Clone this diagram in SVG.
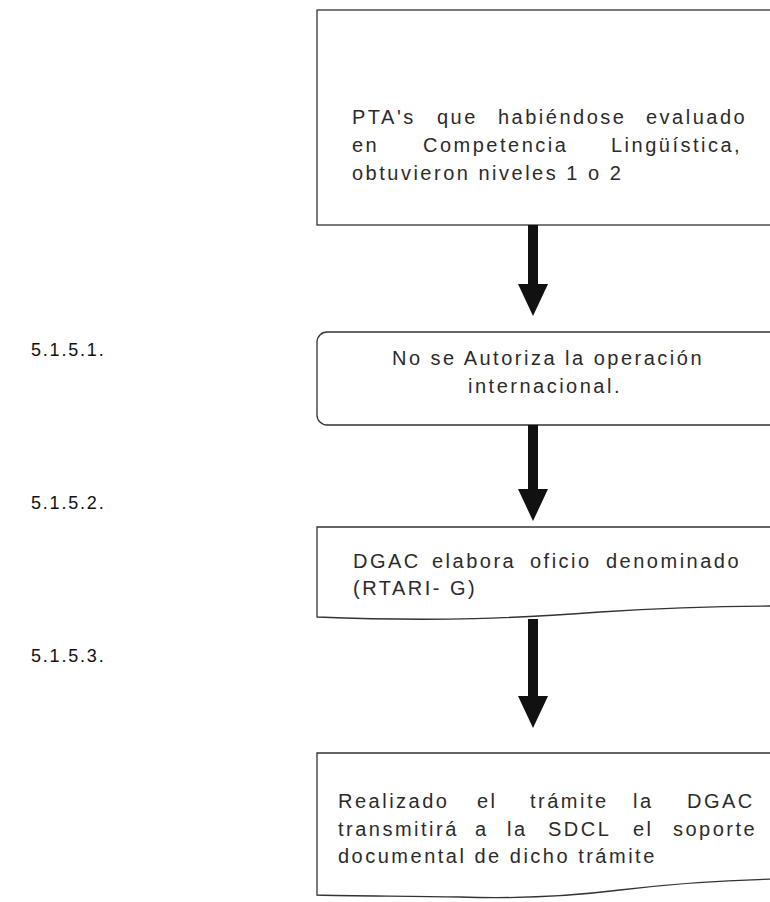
<svg xmlns="http://www.w3.org/2000/svg" width="770" height="902" viewBox="0 0 770 902">
<style>
.box{fill:#ffffff;stroke:#333333;stroke-width:1.3}
.t{font-family:"Liberation Sans",Arial,sans-serif;font-size:20px;letter-spacing:2.5px;fill:#2b2b2b}
.lbl{font-family:"Liberation Sans",Arial,sans-serif;font-size:18px;letter-spacing:1.8px;fill:#111111}
.shaft{stroke:#111111;stroke-width:10;fill:none}
</style>
<defs>
<marker id="head" markerUnits="userSpaceOnUse" viewBox="0 -15 32 30" refX="0" refY="0" markerWidth="32" markerHeight="30" orient="auto">
<path d="M0,-15 L32,0 L0,15 Z" fill="#111111"/>
</marker>
</defs>
<rect width="770" height="902" fill="#ffffff"/>
<g id="labels">
<text class="lbl" x="31" y="356">5.1.5.1.</text>
<text class="lbl" x="31" y="509">5.1.5.2.</text>
<text class="lbl" x="31" y="662">5.1.5.3.</text>
</g>
<g id="node1">
<rect class="box" x="317" y="10" width="470" height="215"/>
<text class="t" y="124"><tspan x="352">PTA's</tspan><tspan x="437">que</tspan><tspan x="498">habiéndose</tspan><tspan x="646">evaluado</tspan></text>
<text class="t" y="152"><tspan x="352">en</tspan><tspan x="423">Competencia</tspan><tspan x="611">Lingüística,</tspan></text>
<text class="t" x="352" y="180">obtuvieron niveles 1 o 2</text>
</g>
<g id="node2">
<rect class="box" x="317" y="332" width="470" height="93" rx="10" ry="10"/>
<text class="t" x="548" y="365" text-anchor="middle">No se Autoriza la operación</text>
<text class="t" x="545" y="393" text-anchor="middle">internacional.</text>
</g>
<g id="node3">
<path class="box" d="M317,527 L780,527 L780,606 C720,606 660,608 600,612 C520,618 440,622 317,617 Z"/>
<text class="t" y="568"><tspan x="353">DGAC</tspan><tspan x="432">elabora</tspan><tspan x="530">oficio</tspan><tspan x="606">denominado</tspan></text>
<text class="t" x="353" y="595">(RTARI- G)</text>
</g>
<g id="node4">
<path class="box" d="M317,753 L780,753 L780,879 C720,880 670,884 620,890 C580,895 520,899 460,897 C400,896 350,896 317,895 Z"/>
<text class="t" y="808"><tspan x="338">Realizado</tspan><tspan x="477">el</tspan><tspan x="530">trámite</tspan><tspan x="633">la</tspan><tspan x="687">DGAC</tspan></text>
<text class="t" y="836"><tspan x="338">transmitirá</tspan><tspan x="475">a</tspan><tspan x="507">la</tspan><tspan x="548">SDCL</tspan><tspan x="633">el</tspan><tspan x="673">soporte</tspan></text>
<text class="t" x="338" y="863">documental de dicho trámite</text>
</g>
<g id="connectors">
<line class="shaft" x1="533" y1="225" x2="533" y2="284" marker-end="url(#head)"/>
<line class="shaft" x1="533" y1="425" x2="533" y2="489" marker-end="url(#head)"/>
<line class="shaft" x1="533" y1="619" x2="533" y2="696" marker-end="url(#head)"/>
</g>
</svg>
